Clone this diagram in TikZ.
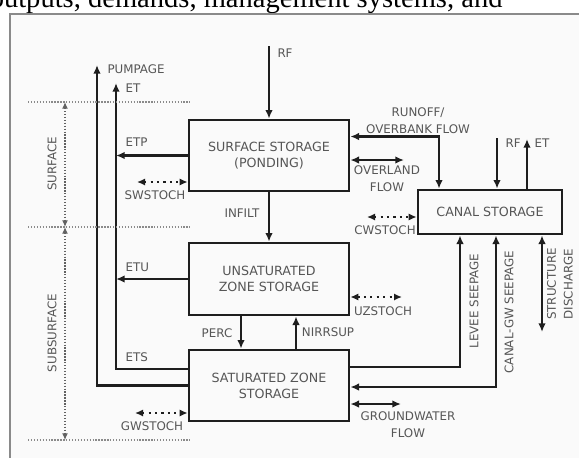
\documentclass[tikz,border=0pt]{standalone}
\usepackage{fontspec}
\usetikzlibrary{arrows.meta,calc}

\newfontfamily\lblfont{DejaVu Sans}
\newfontfamily\pagefont{Liberation Serif}

\definecolor{ink}{HTML}{1E1E1E}
\definecolor{lbl}{HTML}{565656}
\definecolor{rule}{HTML}{8A8A8A}
\definecolor{paper}{HTML}{FAFAFA}

\tikzset{every picture/.style={line width=0.75pt}}
\tikzset{
  store/.style={draw=ink, line width=2pt, minimum width=120pt, inner sep=0pt,
    align=center, text=lbl, font=\lblfont\fontsize{9.5}{12}\selectfont},
  flow/.style={draw=ink, line width=1.8pt, -{Latex[length=6.5pt,width=5.6pt]}},
  flowboth/.style={draw=ink, line width=1.8pt, {Latex[length=6.5pt,width=5.6pt]}-{Latex[length=6.5pt,width=5.6pt]}},
  stoch/.style={draw=ink, line width=1.6pt, dash pattern={on 1.6pt off 3.2pt},
    {Latex[length=6pt,width=5.4pt]}-{Latex[length=6pt,width=5.4pt]}},
  zone/.style={draw=rule, line width=1pt, dash pattern={on 1pt off 1.2pt}},
  zonearrow/.style={draw=rule!70!black, line width=0.9pt, dash pattern={on 1pt off 1.2pt},
    {Latex[length=5pt,width=4.4pt]}-{Latex[length=5pt,width=4.4pt]}},
  tag/.style={inner sep=0.75pt, text=lbl, align=center, font=\lblfont\fontsize{8.9}{12.5}\selectfont},
}

\begin{document}
\begin{tikzpicture}[x=0.75pt,y=0.75pt,yscale=-1,xscale=1]
	\useasboundingbox (0,0) rectangle (579,458);
	\clip (0,0) rectangle (579,458);
	
	% page text above the figure
	\node[anchor=base east, inner sep=0pt, font=\pagefont\fontsize{21.4}{25}\selectfont] (pageline) at (503,7) {outputs, demands, management systems, and};
	% figure frame
	\fill[paper] (10,14) rectangle (579,458);
	\draw[rule, line width=1.5pt] (579,14) -- (10,14) -- (10,458);
	
	% Storage boxes
	\node[store, minimum height=53.25pt] (surf) at (269,155.5) {SURFACE STORAGE\\(PONDING)};
	\node[store, minimum height=54pt] (unsat) at (269,279) {UNSATURATED\\ZONE STORAGE};
	\node[store, minimum height=53.25pt] (sat) at (269,385.5) {SATURATED ZONE\\STORAGE};
	\node[store, minimum width=108pt, minimum height=33pt] (canal) at (490,212) {CANAL STORAGE};
	
	% free ends of the connectors
	\coordinate (rfS) at (269,46);
	\coordinate (pmpTop) at (97,65);
	\coordinate (pmp) at (97,385.5);
	\coordinate (etTop) at (116,83);
	\coordinate (ets) at (116,369);
	\coordinate (etp) at (116,155.5);
	\coordinate (etu) at (116,279);
	\coordinate (sws) at (137,182);
	\coordinate (gws) at (135,413);
	\coordinate (uzs) at (402,297);
	\coordinate (olf) at (404,160);
	\coordinate (ro) at (439,136.5);
	\coordinate (cws) at (367,217);
	\coordinate (rfC) at (497,138);
	\coordinate (etC) at (527,139);
	\coordinate (lev) at (460,367);
	\coordinate (cgw) at (496,387);
	\coordinate (sdis) at (542,332);
	\coordinate (gwf) at (401,404);
	
	%Straight Lines: vertical exchange
	\draw[flow] (rfS) -- (surf.north);
	\draw[flow] (surf.south) -- (unsat.north);
	\draw[flow] ($(unsat.south)+(-28,0)$) -- ($(sat.north)+(-28,0)$);
	\draw[flow] ($(sat.north)+(27,0)$) -- ($(unsat.south)+(27,0)$);
	
	%Straight Lines: left side
	\draw[flow] (sat.west |- pmp) -- (pmp) -- (pmpTop);
	\draw[flow] (sat.west |- ets) -- (ets) -- (etTop);
	\draw[flow] (surf.west) -- (etp);
	\draw[flow] (unsat.west) -- (etu);
	\draw[stoch] (sws) -- (surf.west |- sws);
	\draw[stoch] (gws) -- (sat.west |- gws);
	
	%Straight Lines: right side
	\draw[flowboth] (surf.east |- ro) -- (ro) -- (ro |- canal.north);
	\draw[flowboth] (surf.east |- olf) -- (olf);
	\draw[stoch] (cws) -- (canal.west |- cws);
	\draw[stoch] (unsat.east |- uzs) -- (uzs);
	\draw[flow] (rfC) -- (rfC |- canal.north);
	\draw[flow] (etC |- canal.north) -- (etC);
	\draw[flow] (sat.east |- lev) -- (lev) -- (lev |- canal.south);
	\draw[flowboth] (sat.east |- cgw) -- (cgw) -- (cgw |- canal.south);
	\draw[flowboth] (sdis |- canal.south) -- (sdis);
	\draw[flowboth] (sat.east |- gwf) -- (gwf);
	
	%Zone marks
	\draw[zone] (28,102) -- (190,102);
	\draw[zone] (28,227) -- (190,227);
	\draw[zone] (28,440) -- (190,440);
	\draw[zonearrow] (65,102) -- (65,227);
	\draw[zonearrow] (65,227) -- (65,440);
	
	% Text Node
	\node[tag, rotate=90] (lsurf) at (52,164) {SURFACE};
	% Text Node
	\node[tag, rotate=90] (lsub) at (52,333) {SUBSURFACE};
	% Text Node
	\node[tag, anchor=west] (lrf) at (276,53) {RF};
	% Text Node
	\node[tag, anchor=west] (lpmp) at (106,69) {PUMPAGE};
	% Text Node
	\node[tag, anchor=west] (let) at (124,88) {ET};
	% Text Node
	\node[tag, anchor=west] (letp) at (124,142) {ETP};
	% Text Node
	\node[tag] (lsws) at (155,195) {SWSTOCH};
	% Text Node
	\node[tag, anchor=west] (letu) at (124,267) {ETU};
	% Text Node
	\node[tag, anchor=west] (lets) at (124,357) {ETS};
	% Text Node
	\node[tag] (lgws) at (152,426) {GWSTOCH};
	% Text Node
	\node[tag] (linf) at (242,213) {INFILT};
	% Text Node
	\node[tag] (lperc) at (217,333) {PERC};
	% Text Node
	\node[tag] (lnirr) at (328,332) {NIRRSUP};
	% Text Node
	\node[tag] (luzs) at (383,311) {UZSTOCH};
	% Text Node
	\node[tag] (lro) at (418,121) {RUNOFF/\\OVERBANK FLOW};
	% Text Node
	\node[tag] (lolf) at (387,178.5) {OVERLAND\\FLOW};
	% Text Node
	\node[tag] (lcws) at (385,230) {CWSTOCH};
	% Text Node
	\node[tag, anchor=west] (lrfc) at (504,143) {RF};
	% Text Node
	\node[tag, anchor=west] (letc) at (533,143) {ET};
	% Text Node
	\node[tag, rotate=90] (llev) at (474,301) {LEVEE SEEPAGE};
	% Text Node
	\node[tag, rotate=90] (lcgw) at (509,312) {CANAL-GW SEEPAGE};
	% Text Node
	\node[tag, rotate=90] (lsdis) at (560,284) {STRUCTURE\\DISCHARGE};
	% Text Node
	\node[tag] (lgwf) at (408,424.5) {GROUNDWATER\\FLOW};
	
\end{tikzpicture}
\end{document}
